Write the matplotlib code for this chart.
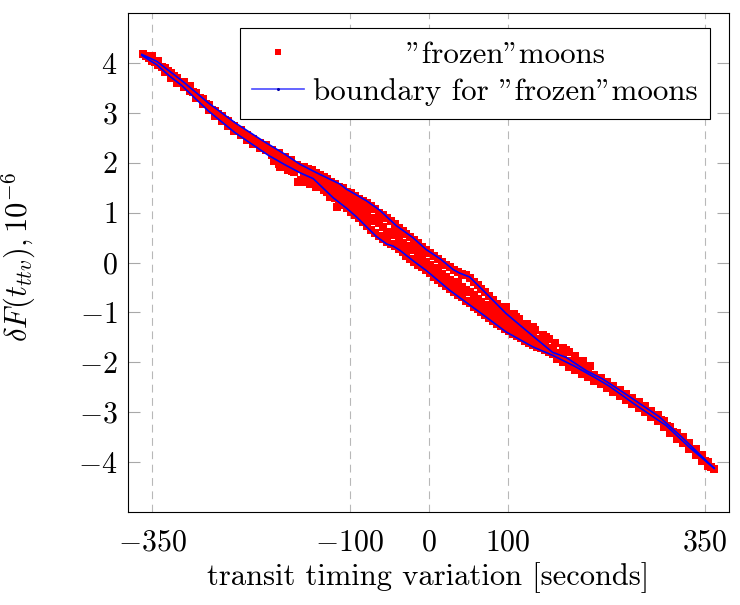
import matplotlib
matplotlib.use('Agg')
import matplotlib.pyplot as plt
from matplotlib.lines import Line2D

plt.rcParams['font.family'] = 'cmr10'
plt.rcParams['mathtext.fontset'] = 'cm'
plt.rcParams['axes.formatter.use_mathtext'] = True

# ---------------- data ----------------
xticks = [-350, -100, 0, 100, 350]
xtick_labels = [r'$-350$', r'$-100$', r'$0$', r'$100$', r'$350$']
yticks = [-4, -3, -2, -1, 0, 1, 2, 3, 4]
ytick_labels = [r'$-4$', r'$-3$', r'$-2$', r'$-1$', r'$0$', r'$1$', r'$2$', r'$3$', r'$4$']

label_moons = '"frozen"moons'
label_bound = 'boundary for "frozen"moons'

# narrow band, left part
left_x = [-362, -358, -354, -350, -350, -346, -342, -342, -338, -334, -334, -330,
          -326, -326, -322, -318, -318, -314, -310, -310, -306, -302, -302, -298,
          -294, -294, -290, -286, -286, -282, -278, -278, -274, -270, -270, -266,
          -262, -262, -258, -254, -254, -250, -246, -246, -242, -238, -238, -234,
          -230, -230, -226, -222, -222, -218, -214, -214, -210, -206, -206, -202,
          -198, -198, -194, -190, -190, -186, -182, -182, -178, -174, -174, -170,
          -166, -166]
left_y = [4.17, 4.14, 4.10, 4.04, 4.14, 4.02, 3.95, 4.04, 3.92, 3.90, 3.81, 3.83,
          3.80, 3.70, 3.73, 3.70, 3.60, 3.60, 3.61, 3.51, 3.52, 3.43, 3.53, 3.42,
          3.39, 3.29, 3.30, 3.27, 3.17, 3.18, 3.16, 3.06, 3.06, 3.04, 2.94, 2.97,
          2.93, 2.83, 2.86, 2.83, 2.73, 2.76, 2.74, 2.64, 2.66, 2.65, 2.55, 2.58,
          2.56, 2.46, 2.50, 2.48, 2.38, 2.42, 2.40, 2.30, 2.34, 2.25, 2.35, 2.26,
          2.25, 2.15, 2.18, 2.10, 2.19, 2.10, 2.02, 2.12, 2.06, 1.96, 2.05, 1.96,
          1.96, 1.87]

# points lying just below the lower boundary (left half)
below_x = [-196, -190, -188, -179, -178, -173, -171, -165, -161, -158, -150, -142,
           -133, -125, -116]
below_y = [2.04, 1.97, 1.91, 1.91, 1.86, 1.84, 1.81, 1.62, 1.66, 1.61, 1.58, 1.51,
           1.45, 1.31, 1.11]

# wide middle part of the band: (x, [y values])
mid_rows = [
    (-158, [1.92, 1.80]), (-153, [1.88, 1.76]), (-148, [1.85, 1.74, 1.62]),
    (-143, [1.80, 1.68, 1.58]), (-138, [1.76, 1.64, 1.52]), (-133, [1.72, 1.58]),
    (-128, [1.68, 1.55, 1.42]), (-123, [1.62, 1.48, 1.34]), (-118, [1.58, 1.44, 1.30]),
    (-113, [1.52, 1.36, 1.22]), (-108, [1.50, 1.30, 1.16]), (-103, [1.42, 1.24, 1.10]),
    (-98, [1.40, 1.18, 1.02]), (-93, [1.34, 1.12, 0.96]), (-88, [1.28, 1.20, 0.90]),
    (-83, [1.24, 1.04, 0.82]), (-78, [1.20, 0.98, 0.74]), (-73, [1.14, 0.90, 0.66]),
    (-68, [1.08, 0.84, 0.60]), (-63, [1.00, 0.80, 0.54]), (-58, [0.96, 0.72, 0.48]),
    (-53, [0.90, 0.62, 0.42]), (-48, [0.84, 0.56, 0.38]), (-43, [0.78, 0.62, 0.34]),
    (-38, [0.70, 0.48, 0.28]), (-33, [0.64, 0.40, 0.22]), (-28, [0.58, 0.34, 0.14]),
    (-23, [0.52, 0.26, 0.08]), (-18, [0.46, 0.30, 0.02]), (-13, [0.40, 0.18, -0.04]),
    (-8, [0.32, 0.10, -0.10]), (-3, [0.26, 0.02, -0.16]), (2, [0.20, -0.04, -0.22]),
    (7, [0.14, -0.12, -0.30]), (12, [0.08, -0.16, -0.36]), (17, [0.02, -0.24, -0.42]),
    (22, [-0.04, -0.30, -0.48]), (27, [-0.10, -0.36, -0.54]), (32, [-0.16, -0.44, -0.60]),
    (37, [-0.20, -0.40, -0.66]), (42, [-0.24, -0.50, -0.70]), (47, [-0.26, -0.56, -0.78]),
    (52, [-0.32, -0.60, -0.82]), (57, [-0.40, -0.66, -0.90]), (62, [-0.46, -0.74, -0.94]),
    (67, [-0.54, -0.80, -1.00]), (72, [-0.60, -0.86, -1.06]), (77, [-0.68, -0.92, -1.12]),
    (82, [-0.76, -0.98, -1.18]), (87, [-0.84, -1.06, -1.24]), (92, [-0.90, -1.12, -1.28]),
    (97, [-0.98, -1.20, -1.34]), (102, [-1.06, -1.24, -1.38]), (107, [-1.12, -1.30, -1.44]),
    (112, [-1.20, -1.36, -1.48]), (117, [-1.26, -1.42, -1.52]), (122, [-1.32, -1.46, -1.58]),
    (127, [-1.40, -1.52, -1.62]), (132, [-1.46, -1.58, -1.66]), (137, [-1.54, -1.64, -1.70]),
    (142, [-1.60, -1.72]), (147, [-1.66, -1.76]), (152, [-1.72, -1.80]), (157, [-1.78, -1.84]),
]

# points lying just above the upper boundary (right half)
above_x = [98, 108, 111, 115, 125, 132, 135, 145, 149, 152, 160, 170, 174, 178, 186,
           195, 205]
above_y = [-0.90, -1.04, -1.09, -1.14, -1.24, -1.30, -1.36, -1.46, -1.50, -1.54,
           -1.62, -1.72, -1.75, -1.80, -1.88, -1.98, -2.08]

# narrow band, right part
right_x = [162, 162, 166, 170, 170, 174, 178, 178, 182, 186, 186, 190, 194, 194, 198,
           202, 202, 206, 210, 210, 214, 218, 218, 222, 226, 226, 230, 234, 234, 238,
           242, 242, 246, 250, 250, 254, 258, 258, 262, 266, 266, 270, 274, 274, 278,
           282, 282, 286, 290, 290, 294, 298, 298, 302, 306, 306, 310, 314, 314, 318,
           322, 322, 326, 330, 330, 334, 338, 338, 342, 346, 346, 350, 354, 354, 358,
           361]
right_y = [-1.81, -1.93, -1.89, -1.88, -2.00, -1.97, -1.97, -2.09, -2.05, -2.04, -2.16,
           -2.12, -2.11, -2.23, -2.20, -2.18, -2.30, -2.26, -2.25, -2.37, -2.34, -2.32,
           -2.44, -2.41, -2.39, -2.51, -2.48, -2.47, -2.59, -2.56, -2.55, -2.67, -2.65,
           -2.63, -2.75, -2.73, -2.72, -2.84, -2.82, -2.80, -2.92, -2.90, -2.88, -3.00,
           -2.99, -2.98, -3.10, -3.07, -3.05, -3.17, -3.15, -3.17, -3.29, -3.28, -3.30,
           -3.42, -3.39, -3.42, -3.54, -3.50, -3.50, -3.62, -3.61, -3.62, -3.74, -3.73,
           -3.74, -3.86, -3.85, -3.85, -3.97, -3.97, -4.00, -4.08, -4.09, -4.14]

# boundary curve: upper branch (left -> right), lower branch (left -> right)
upper_x = [-363, -344, -312, -279, -245, -211, -182, -163, -142, -112, -104, -79, -62,
           -41, -20, -3, 15, 31, 39, 52, 73, 98, 128, 157, 174, 200, 220, 250, 292,
           320, 343, 362]
upper_y = [4.17, 4.03, 3.64, 3.20, 2.80, 2.45, 2.17, 1.97, 1.80, 1.57, 1.47, 1.24, 1.05,
           0.74, 0.50, 0.26, 0.07, -0.14, -0.21, -0.29, -0.62, -1.02, -1.42, -1.80,
           -1.90, -2.17, -2.33, -2.64, -3.09, -3.49, -3.84, -4.13]
lower_x = [-363, -344, -329, -312, -279, -245, -203, -182, -163, -146, -121, -104, -91,
           -66, -53, -45, -36, -20, -3, 27, 65, 98, 132, 157, 185, 210, 229, 260, 301,
           330, 345, 362]
lower_y = [4.15, 3.96, 3.75, 3.54, 3.04, 2.60, 2.15, 1.96, 1.80, 1.68, 1.30, 1.09, 0.91,
           0.52, 0.37, 0.33, 0.24, 0.04, -0.16, -0.56, -1.00, -1.39, -1.69, -1.86,
           -2.08, -2.30, -2.48, -2.83, -3.27, -3.70, -3.90, -4.13]

# ---------------- assemble ----------------
mid_x = [x for x, ys in mid_rows for _ in ys]
mid_y = [y for _, ys in mid_rows for y in ys]
pts_x = left_x + below_x + mid_x + above_x + right_x
pts_y = left_y + below_y + mid_y + above_y + right_y
loop_x = upper_x + lower_x[::-1]
loop_y = upper_y + lower_y[::-1]

FS = 22
LFS = 22.3

fig = plt.figure(figsize=(7.4, 6.05), dpi=100)
ax = fig.add_axes([0.1736, 0.1537, 0.8111, 0.8248])

ax.plot(pts_x, pts_y, linestyle='none', marker='s', markersize=6,
        color='#ff0000', markeredgewidth=0, zorder=3)
ax.plot(loop_x, loop_y, color='#0000ff', linewidth=1.2, zorder=4)

ax.set_xlim(-380, 380)
ax.set_ylim(-5, 5)
ax.set_xticks(xticks)
ax.set_xticklabels(xtick_labels)
ax.set_yticks(yticks)
ax.set_yticklabels(ytick_labels)
ax.tick_params(axis='y', direction='in', length=8.5, width=0.8, color='#a8a8a8',
               left=True, right=True, labelsize=FS - 0.5, pad=8)
ax.tick_params(axis='x', length=0, labelsize=FS - 0.5, pad=12)
ax.grid(axis='x', color='#b8b8b8', linestyle=(0, (7, 5)), linewidth=0.8, zorder=0)
ax.set_axisbelow(True)
for s in ax.spines.values():
    s.set_linewidth(0.8)
    s.set_color('black')

ax.set_xlabel('transit timing variation [seconds]', fontsize=FS)
ax.xaxis.set_label_coords(0.5, -0.100)
ax.set_ylabel(r'$\delta F(t_{ttv}), 10^{-6}$', fontsize=FS)
ax.yaxis.set_label_coords(-0.150, 0.51)

h1 = Line2D([], [], linestyle='none', marker='s', markersize=4, color='#ff0000',
            markeredgewidth=0)
h2 = Line2D([], [], color='#4a4aff', linewidth=1.2, marker='o', markersize=1.2,
            markerfacecolor='#0000aa', markeredgecolor='#0000aa')


def make_legend(l1):
    leg = ax.legend([h1, h2], [l1, label_bound], loc='upper right',
                    bbox_to_anchor=(0.969, 0.9693), borderaxespad=0, frameon=True,
                    fancybox=False, edgecolor='black', framealpha=1, fontsize=LFS,
                    handlelength=1.68, handletextpad=0.29, labelspacing=0.31,
                    borderpad=0.40)
    leg.get_frame().set_linewidth(0.8)
    return leg


leg = make_legend(label_moons)
fig.canvas.draw()
r = fig.canvas.get_renderer()
w1 = leg.get_texts()[0].get_window_extent(r).width
w2 = leg.get_texts()[1].get_window_extent(r).width
t_a = fig.text(0, 0, 'a a', fontsize=LFS)
t_b = fig.text(0, 0, 'aa', fontsize=LFS)
sw = t_a.get_window_extent(r).width - t_b.get_window_extent(r).width
t_a.remove()
t_b.remove()
n = int(round((w2 - w1) / 2 / sw)) if sw > 0 else 0
leg.remove()
leg = make_legend(' ' * n + label_moons)

fig.savefig('out.png', dpi=100)
